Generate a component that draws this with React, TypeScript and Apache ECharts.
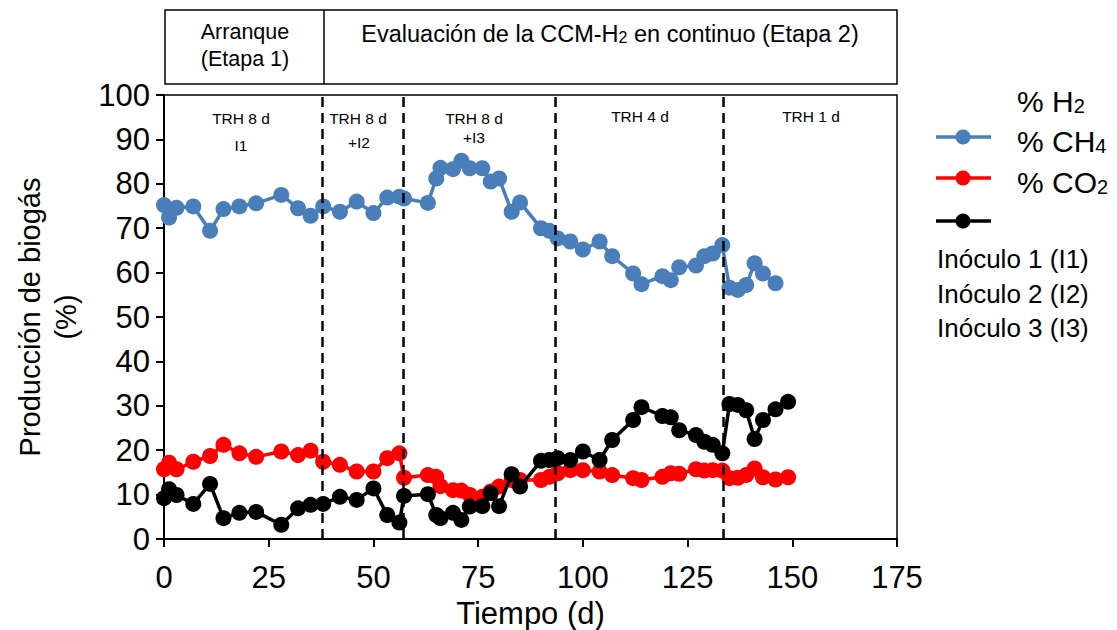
import React, { useEffect, useRef } from "react";
import * as echarts from "echarts";

const days = [0, 1.2, 3, 7, 11, 14.2, 18, 22, 28, 32, 35, 38, 42, 46, 50, 53.3, 56.2, 57.3, 63, 65, 66, 69, 71, 73, 76, 78, 80, 83, 85, 90, 92, 94, 97, 100, 104, 107, 112, 114, 119, 121, 123, 127, 129, 131, 133.3, 135, 137, 139, 141, 143, 146, 149];

const ch4 = [75.2, 72.4, 74.6, 74.9, 69.4, 74.3, 74.9, 75.6, 77.5, 74.5, 72.8, 74.9, 73.7, 76.0, 73.4, 76.9, 77.1, 76.7, 75.7, 81.2, 83.6, 83.3, 85.2, 83.5, 83.5, 80.5, 81.2, 73.7, 75.8, 70.0, 69.4, 67.7, 67.0, 65.2, 67.0, 63.7, 59.8, 57.4, 59.2, 58.3, 61.2, 61.6, 63.7, 64.3, 66.2, 56.6, 56.1, 57.2, 62.1, 59.8, 57.6];

const co2 = [15.7, 17.2, 15.7, 17.4, 18.7, 21.2, 19.3, 18.5, 19.7, 18.9, 19.9, 17.4, 16.7, 15.2, 15.2, 18.2, 19.3, 13.8, 14.4, 14.0, 11.9, 11.0, 10.9, 9.9, 9.5, 10.7, 11.8, 13.3, 13.3, 13.3, 14.0, 14.8, 15.5, 15.5, 15.2, 14.4, 13.7, 13.3, 14.0, 14.8, 14.7, 15.7, 15.4, 15.5, 15.4, 13.7, 13.8, 14.4, 15.9, 13.9, 13.4, 13.9];

const h2 = [9.2, 11.2, 9.9, 7.9, 12.4, 4.7, 5.9, 6.1, 3.2, 6.9, 7.7, 7.9, 9.5, 8.8, 11.4, 5.4, 3.7, 9.7, 10.1, 5.4, 4.7, 5.9, 4.3, 7.3, 7.4, 10.3, 7.4, 14.6, 11.8, 17.6, 17.8, 18.2, 17.8, 19.7, 17.8, 22.3, 26.8, 29.7, 27.7, 27.4, 24.5, 23.4, 21.9, 21.2, 19.3, 30.4, 30.2, 29.0, 22.5, 26.8, 29.2, 30.9];

const phaseBounds = [37.8, 57.2, 93.5, 133.5];
const xTicks = { min: 0, max: 175, interval: 25 };
const yTicks = { min: 0, max: 100, interval: 10 };

const FONT = "'Liberation Sans', Arial, sans-serif";
const BLUE = "#4A7EBB";
const RED = "#FF0000";
const BLACK = "#000000";

const subRich = (size: number) => ({
  sub: { fontSize: size, fontFamily: FONT, fill: "#000", padding: [Math.round(size * 0.45), 0, 0, 0] },
});

export default function App() {
  const ref = useRef<HTMLDivElement>(null);
  useEffect(() => {
    if (!ref.current) return;
    const chart = echarts.init(ref.current, undefined, { renderer: "svg" });
    const pairs = (vals: number[]) => vals.map((v, i) => [days[i], v]);
    const seriesBase = (name: string, color: string, vals: number[], z: number) => ({
      name,
      type: "line",
      data: pairs(vals),
      symbol: "circle",
      symbolSize: 16,
      itemStyle: { color },
      lineStyle: { color, width: 3.5 },
      z,
    });

    const legendLine = (y: number, color: string) => [
      { type: "line", shape: { x1: 936, y1: y, x2: 991, y2: y }, style: { stroke: color, lineWidth: 3.5 } },
      { type: "circle", shape: { cx: 963, cy: y, r: 7.5 }, style: { fill: color } },
    ];

    const legText = (y: number, text: string) => ({
      type: "text",
      x: 1017,
      y,
      style: { text, fontSize: 30, fontFamily: FONT, fill: "#000", textVerticalAlign: "middle", rich: subRich(20) },
    });

    const small = (x: number, y: number, text: string) => ({
      type: "text",
      x,
      y,
      style: { text, fontSize: 15.5, fontFamily: FONT, fill: "#000", textAlign: "center", textVerticalAlign: "middle" },
    });

    const inoc = (y: number, text: string) => ({
      type: "text",
      x: 937,
      y,
      style: { text, fontSize: 26, fontFamily: FONT, fill: "#000", textVerticalAlign: "middle" },
    });

    chart.setOption({
      animation: false,
      backgroundColor: "#fff",
      grid: {
        left: 164,
        right: 220,
        top: 95,
        bottom: 91,
        show: true,
        borderColor: "#000",
        borderWidth: 1.5,
        containLabel: false,
        outerBoundsMode: "none",
      },
      xAxis: {
        type: "value",
        ...xTicks,
        name: "Tiempo (d)",
        nameLocation: "middle",
        nameGap: 54,
        nameTextStyle: { fontSize: 31, fontFamily: FONT, color: "#000" },
        axisLine: { lineStyle: { color: "#000", width: 2 } },
        axisTick: { show: true, inside: false, length: 8, lineStyle: { color: "#000", width: 2 } },
        axisLabel: { fontSize: 31, fontFamily: FONT, color: "#000", margin: 23 },
        splitLine: { show: false },
      },
      yAxis: {
        type: "value",
        ...yTicks,
        name: "Producción de biogás\n(%)",
        nameLocation: "middle",
        nameRotate: 90,
        nameGap: 80,
        nameTextStyle: { fontSize: 29, fontFamily: FONT, color: "#000", lineHeight: 36 },
        axisLine: { lineStyle: { color: "#000", width: 2 } },
        axisTick: { show: true, inside: false, length: 8, lineStyle: { color: "#000", width: 2 } },
        axisLabel: { fontSize: 31, fontFamily: FONT, color: "#000", margin: 14 },
        splitLine: { show: false },
      },
      series: [
        {
          ...seriesBase("% CH4", BLUE, ch4, 3),
          markLine: {
            silent: true,
            symbol: "none",
            label: { show: false },
            lineStyle: { color: "#000", width: 2.5, type: [10, 6] },
            data: phaseBounds.map((v) => ({ xAxis: v })),
          },
        },
        seriesBase("% CO2", RED, co2, 4),
        seriesBase("% H2", BLACK, h2, 5),
      ],
      graphic: [
        { type: "rect", shape: { x: 165, y: 10, width: 732, height: 74 }, style: { fill: "none", stroke: "#000", lineWidth: 1.5 } },
        { type: "line", shape: { x1: 324, y1: 10, x2: 324, y2: 84 }, style: { stroke: "#000", lineWidth: 1.5 } },
        { type: "text", x: 245, y: 32, style: { text: "Arranque", fontSize: 21.5, fontFamily: FONT, fill: "#000", textAlign: "center", textVerticalAlign: "middle" } },
        { type: "text", x: 245, y: 59, style: { text: "(Etapa 1)", fontSize: 21.5, fontFamily: FONT, fill: "#000", textAlign: "center", textVerticalAlign: "middle" } },
        {
          type: "text",
          x: 610,
          y: 34,
          style: {
            text: "Evaluación de la CCM-H{sub|2} en continuo (Etapa 2)",
            fontSize: 23.5,
            fontFamily: FONT,
            fill: "#000",
            textAlign: "center",
            textVerticalAlign: "middle",
            rich: subRich(16),
          },
        },
        small(241, 118, "TRH 8 d"),
        small(241, 145, "I1"),
        small(358, 118, "TRH 8 d"),
        small(359, 142, "+I2"),
        small(474, 118, "TRH 8 d"),
        small(474, 137, "+I3"),
        small(640, 116, "TRH 4 d"),
        small(811, 116, "TRH 1 d"),
        legText(101, "% H{sub|2}"),
        ...legendLine(137, BLUE),
        legText(141, "% CH{sub|4}"),
        ...legendLine(178, RED),
        legText(182, "% CO{sub|2}"),
        ...legendLine(221, BLACK),
        inoc(259, "Inóculo 1 (I1)"),
        inoc(294, "Inóculo 2 (I2)"),
        inoc(328, "Inóculo 3 (I3)"),
      ],
    });
    return () => chart.dispose();
  }, []);
  return <div ref={ref} style={{ width: 1117, height: 630, position: "absolute", left: 0, top: 0 }} />;
}
